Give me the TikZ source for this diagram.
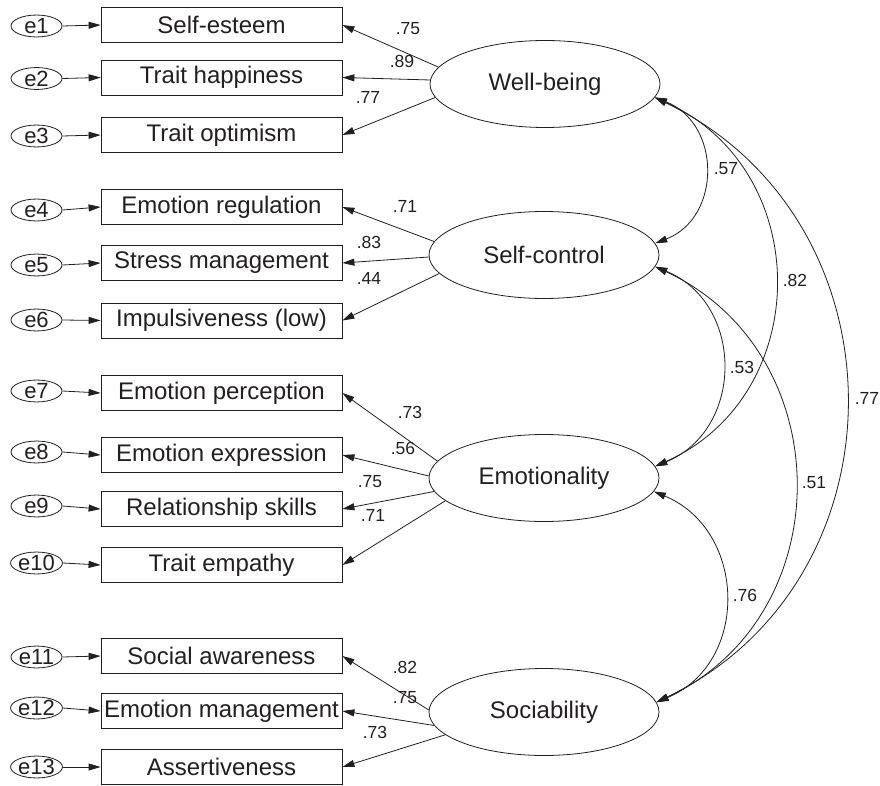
\documentclass[tikz,border=0pt]{standalone}
\usepackage{fontspec}
\setmainfont{Liberation Sans}
\usetikzlibrary{arrows.meta,shapes.geometric}
\definecolor{ink}{RGB}{35,31,32}
\begin{document}
\begin{tikzpicture}[x=1pt,y=-1pt,
  every node/.style={text=ink},
  obs/.style={draw=ink, line width=0.8pt, minimum width=241pt, minimum height=35pt, inner sep=0pt, font=\fontsize{24}{28}\selectfont},
  lat/.style={ellipse, draw=ink, line width=0.8pt, minimum width=230pt, minimum height=87pt, inner sep=0pt, font=\fontsize{24}{28}\selectfont},
  err/.style={ellipse, draw=ink, line width=0.8pt, minimum width=51pt, minimum height=21pt, inner sep=0pt, text height=15.5pt, text depth=0pt, font=\fontsize{22}{26}\selectfont},
  coef/.style={font=\fontsize{17.5}{20}\selectfont, inner sep=0pt},
  arr/.style={draw=ink, line width=0.8pt, -{Triangle[length=12pt,width=7pt]}},
  cov/.style={draw=ink, line width=0.8pt, {Triangle[length=12pt,width=7pt]}-{Triangle[length=12pt,width=7pt]}}]
\useasboundingbox (0,0) rectangle (880,786);

% observed variables
\node[obs] (o1) at (221.5,25) {Self-esteem};
\node[obs] (o2) at (221.5,77.5) {Trait happiness};
\node[obs] (o3) at (221.5,135) {Trait optimism};
\node[obs] (o4) at (221.5,207) {Emotion regulation};
\node[obs] (o5) at (221.5,263) {Stress management};
\node[obs] (o6) at (221.5,320.5) {Impulsiveness (low)};
\node[obs] (o7) at (221.5,393) {Emotion perception};
\node[obs] (o8) at (221.5,455) {Emotion expression};
\node[obs] (o9) at (221.5,509) {Relationship skills};
\node[obs] (o10) at (221.5,565) {Trait empathy};
\node[obs] (o11) at (221.5,656) {Social awareness};
\node[obs] (o12) at (221.5,711) {Emotion management};
\node[obs] (o13) at (221.5,767) {Assertiveness};

% error terms
\node[err] (e1) at (36.5,26) {e1};
\node[err] (e2) at (36.5,78.5) {e2};
\node[err] (e3) at (36.5,136) {e3};
\node[err] (e4) at (36.5,210) {e4};
\node[err] (e5) at (36.5,265) {e5};
\node[err] (e6) at (36.5,320) {e6};
\node[err] (e7) at (36.5,391) {e7};
\node[err] (e8) at (36.5,452) {e8};
\node[err] (e9) at (36.5,506) {e9};
\node[err] (e10) at (36.5,563) {e10};
\node[err] (e11) at (36.5,657) {e11};
\node[err] (e12) at (36.5,708) {e12};
\node[err] (e13) at (36.5,767) {e13};

\foreach \i in {1,...,13} {\draw[arr] (e\i.east) -- (o\i.west);}

% latent variables
\node[lat] (wb) at (545,84) {Well-being};
\node[lat] (sc) at (544,255) {Self-control};
\node[lat] (emo) at (544,478) {Emotionality};
\node[lat] (soc) at (544,712) {Sociability};

% loadings
\draw[arr] (wb.171) -- (o1.east);
\draw[arr] (wb.178) -- (o2.east);
\draw[arr] (wb.187) -- (o3.east);
\draw[arr] (sc.173) -- (o4.east);
\draw[arr] (sc.181) -- (o5.east);
\draw[arr] (sc.190) -- (o6.east);
\draw[arr] (emo.171) -- (o7.east);
\draw[arr] (emo.179) -- (o8.east);
\draw[arr] (emo.187) -- (o9.east);
\draw[arr] (emo.193) -- (o10.east);
\draw[arr] (soc.179) -- (o11.east);
\draw[arr] (soc.187) -- (o12.east);
\draw[arr] (soc.193) -- (o13.east);

\node[coef] (l1) at (408,29) {.75};
\node[coef] (l2) at (402,61) {.89};
\node[coef] (l3) at (368,97) {.77};
\node[coef] (l4) at (405,206) {.71};
\node[coef] (l5) at (369,242) {.83};
\node[coef] (l6) at (369,278) {.44};
\node[coef] (l7) at (410,412) {.73};
\node[coef] (l8) at (403,448) {.56};
\node[coef] (l9) at (370,482) {.75};
\node[coef] (l10) at (373,515) {.71};
\node[coef] (l11) at (405,667) {.82};
\node[coef] (l12) at (405,698) {.75};
\node[coef] (l13) at (375,732) {.73};

% covariances
\draw[cov] (wb.-7) .. controls +(66.6,25.9) and +(66.6,-25.9) .. (sc.6);
\draw[cov] (wb.-7) .. controls +(159.8,71.4) and +(159.8,-71.4) .. (emo.6);
\draw[cov] (wb.-7) .. controls +(253.5,122.1) and +(253.5,-122.1) .. (soc.5);
\draw[cov] (sc.-6) .. controls +(89.4,36.6) and +(89.4,-36.6) .. (emo.6);
\draw[cov] (sc.-6) .. controls +(185,85.8) and +(185,-85.8) .. (soc.5);
\draw[cov] (emo.-7) .. controls +(93.3,38.8) and +(93.3,-38.8) .. (soc.5);

\node[coef] (c1) at (726,169) {.57};
\node[coef] (c2) at (795,280) {.82};
\node[coef] (c3) at (867,398) {.77};
\node[coef] (c4) at (742,367) {.53};
\node[coef] (c5) at (814,483) {.51};
\node[coef] (c6) at (745,595) {.76};
\end{tikzpicture}
\end{document}
